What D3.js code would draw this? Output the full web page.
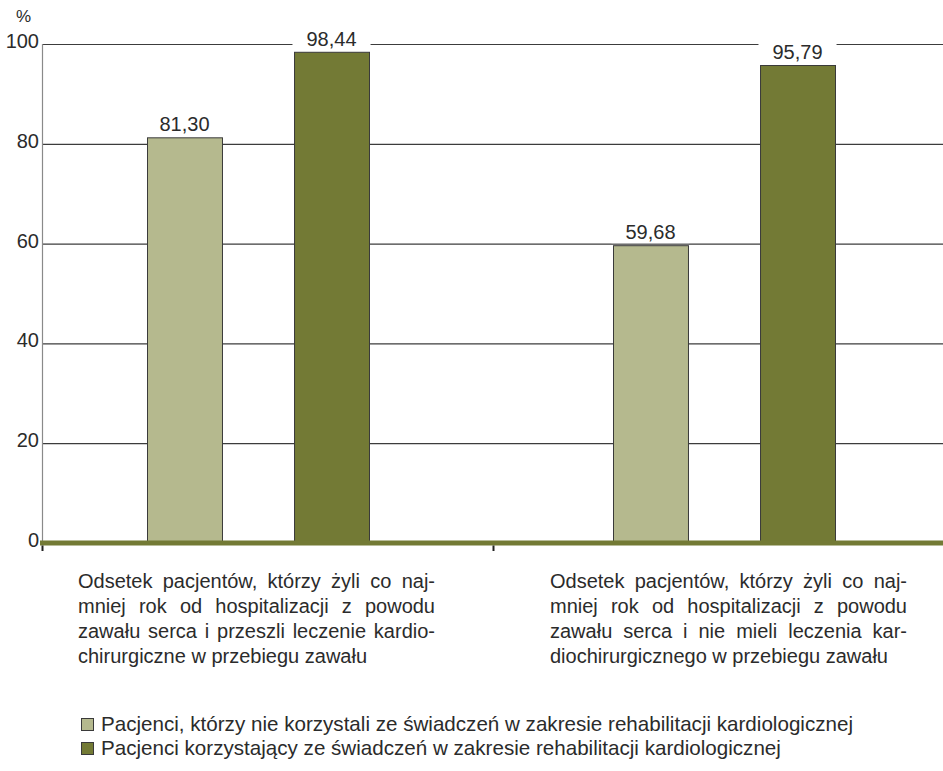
<!DOCTYPE html>
<html>
<head>
<meta charset="utf-8">
<script src="https://cdn.jsdelivr.net/npm/d3@7"></script>
<style>
  html, body { margin: 0; padding: 0; background: #fff; }
  svg { display: block; font-family: "Liberation Sans", Arial, Helvetica, sans-serif; }
</style>
</head>
<body>
<svg id="chart" width="943" height="771"></svg>
<script>
// Groups of patients (x-axis categories), each label broken into lines
const categories = ["surgical", "nonSurgical"];
const categoryLines = [
  ["Odsetek pacjentów, którzy żyli co naj-",
   "mniej rok od hospitalizacji z powodu",
   "zawału serca i przeszli leczenie kardio-",
   "chirurgiczne w przebiegu zawału"],
  ["Odsetek pacjentów, którzy żyli co naj-",
   "mniej rok od hospitalizacji z powodu",
   "zawału serca i nie mieli leczenia kar-",
   "diochirurgicznego w przebiegu zawału"]
];

// Series: rehabilitation not used / used
const seriesNames = [
  "Pacjenci, którzy nie korzystali ze świadczeń w zakresie rehabilitacji kardiologicznej",
  "Pacjenci korzystający ze świadczeń w zakresie rehabilitacji kardiologicznej"
];
const noRehabValues = [81.30, 59.68];
const rehabValues = [98.44, 95.79];
const yTicks = [0, 20, 40, 60, 80, 100];

const colors = ["#b5b98e", "#737a35"];
const textColor = "#2b2b2b";

const svg = d3.select("#chart");

const x0 = d3.scaleBand().domain(categories).range([27, 959]).paddingInner(0);
const x1 = d3.scaleBand().domain([0, 1]).range([120, 342]).paddingInner(0.49);
const y = d3.scaleLinear().domain([0, 100]).range([543, 44]);

const fmt = v => d3.format(".2f")(v).replace(".", ",");

// Horizontal gridlines
svg.append("g")
  .selectAll("line")
  .data(yTicks.filter(t => t > 0))
  .join("line")
  .attr("x1", 42).attr("x2", 943)
  .attr("y1", d => y(d) + 0.5).attr("y2", d => y(d) + 0.5)
  .attr("stroke", "#3c3c3c").attr("stroke-width", 1.2);

// Y axis line
svg.append("line")
  .attr("x1", 42.5).attr("x2", 42.5)
  .attr("y1", y(100)).attr("y2", y(0))
  .attr("stroke", "#8a8a8a").attr("stroke-width", 1.2);

// Y tick labels
svg.append("g")
  .selectAll("text")
  .data(yTicks)
  .join("text")
  .attr("x", 39)
  .attr("y", d => y(d) + 4)
  .attr("text-anchor", "end")
  .attr("font-size", 20)
  .attr("fill", textColor)
  .text(d => d);

svg.append("text")
  .attr("x", 16).attr("y", 22)
  .attr("font-size", 17)
  .attr("fill", textColor)
  .text("%");

// Bars
const rows = categories.map((c, i) => ({ cat: c, values: [noRehabValues[i], rehabValues[i]] }));

const groups = svg.append("g")
  .selectAll("g")
  .data(rows)
  .join("g")
  .attr("transform", d => `translate(${x0(d.cat)},0)`);

groups.selectAll("rect")
  .data(d => d.values.map((v, s) => ({ v, s })))
  .join("rect")
  .attr("x", d => x1(d.s) + 0.5)
  .attr("y", d => y(d.v) + 0.5)
  .attr("width", x1.bandwidth())
  .attr("height", d => y(0) - y(d.v))
  .attr("fill", d => colors[d.s])
  .attr("stroke", "#3a3a3a")
  .attr("stroke-width", 1);

// Value labels with white backing
const labels = groups.selectAll("g.lbl")
  .data(d => d.values.map((v, s) => ({ v, s })))
  .join("g")
  .attr("class", "lbl");

labels.append("text")
  .attr("x", d => x1(d.s) + x1.bandwidth() / 2)
  .attr("y", d => y(d.v) - 6)
  .attr("text-anchor", "middle")
  .attr("font-size", 20)
  .attr("fill", textColor)
  .text(d => fmt(d.v))
  .each(function () {
    const b = this.getBBox();
    d3.select(this.parentNode).insert("rect", "text")
      .attr("x", b.x - 14).attr("y", b.y)
      .attr("width", b.width + 28).attr("height", b.height)
      .attr("fill", "#fff");
  });

// Baseline
svg.append("line")
  .attr("x1", 40).attr("x2", 943)
  .attr("y1", y(0)).attr("y2", y(0))
  .attr("stroke", "#737a35").attr("stroke-width", 5);

// Ticks at the axis origin and between the two groups
svg.append("g")
  .selectAll("line")
  .data([42, x0(categories[1])])
  .join("line")
  .attr("x1", d => d + 0.5).attr("x2", d => d + 0.5)
  .attr("y1", y(0) + 2.5).attr("y2", y(0) + 8)
  .attr("stroke", "#222").attr("stroke-width", 2);

// Justified category labels
const blockLeft = [78, 550];
const blockWidth = [357, 357];
const lineHeight = 25;

categoryLines.forEach((lines, ci) => {
  lines.forEach((line, li) => {
    const t = svg.append("text")
      .attr("y", 588 + li * lineHeight)
      .attr("font-size", 20)
      .attr("fill", textColor);
    const words = line.split(" ");
    if (li === lines.length - 1) {
      t.attr("x", blockLeft[ci]).text(line);
      return;
    }
    const spans = words.map(w => t.append("tspan").text(w));
    const widths = spans.map(s => s.node().getComputedTextLength());
    const total = d3.sum(widths);
    const gap = (blockWidth[ci] - total) / (words.length - 1);
    let cx = blockLeft[ci];
    spans.forEach((s, i) => {
      s.attr("x", cx);
      cx += widths[i] + gap;
    });
  });
});

// Legend
const legend = svg.append("g")
  .selectAll("g")
  .data(seriesNames)
  .join("g")
  .attr("transform", (d, i) => `translate(81,${718 + i * 24})`);

legend.append("rect")
  .attr("x", 0.5).attr("y", 0.5)
  .attr("width", 12).attr("height", 12)
  .attr("fill", (d, i) => colors[i])
  .attr("stroke", "#3a3a3a").attr("stroke-width", 1);

legend.append("text")
  .attr("x", 20).attr("y", 13)
  .attr("font-size", 20.6)
  .attr("fill", textColor)
  .text(d => d);
</script>
</body>
</html>
